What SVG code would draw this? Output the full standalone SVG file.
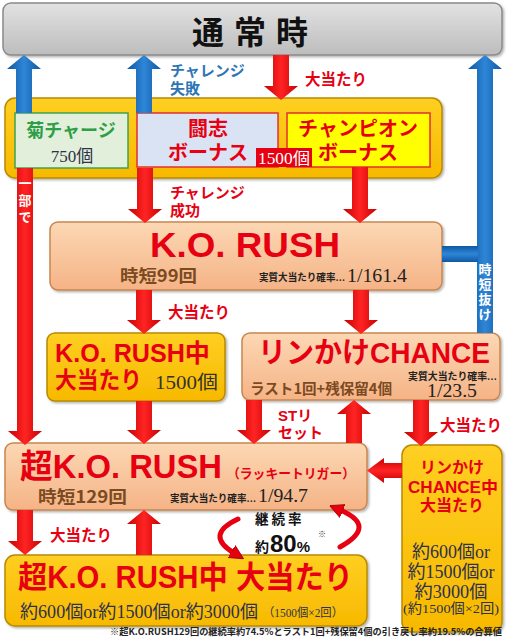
<svg xmlns="http://www.w3.org/2000/svg" width="507" height="640" viewBox="0 0 507 640">
<defs>
<linearGradient id="gGray" x1="0" y1="0" x2="0" y2="1"><stop offset="0" stop-color="#e2e2e2"/><stop offset="1" stop-color="#bdbdbd"/></linearGradient>
<linearGradient id="gPeach" x1="0" y1="0" x2="0" y2="1"><stop offset="0" stop-color="#fcd8b4"/><stop offset="1" stop-color="#f5b386"/></linearGradient>
<linearGradient id="gYel" x1="0" y1="0" x2="0" y2="1"><stop offset="0" stop-color="#ffcf22"/><stop offset="1" stop-color="#f7b900"/></linearGradient>
<linearGradient id="gRed" x1="0" y1="0" x2="1" y2="0"><stop offset="0" stop-color="#c80000"/><stop offset="0.5" stop-color="#ff2424"/><stop offset="1" stop-color="#c80000"/></linearGradient>
<linearGradient id="gRedH" x1="0" y1="0" x2="0" y2="1"><stop offset="0" stop-color="#c80000"/><stop offset="0.5" stop-color="#ff2424"/><stop offset="1" stop-color="#c80000"/></linearGradient>
<linearGradient id="gBlue" x1="0" y1="0" x2="1" y2="0"><stop offset="0" stop-color="#0d58a5"/><stop offset="0.5" stop-color="#2f86d6"/><stop offset="1" stop-color="#0d58a5"/></linearGradient>
<linearGradient id="gBlueH" x1="0" y1="0" x2="0" y2="1"><stop offset="0" stop-color="#0d58a5"/><stop offset="0.5" stop-color="#2f86d6"/><stop offset="1" stop-color="#0d58a5"/></linearGradient>
<filter id="sh" x="-5%" y="-5%" width="110%" height="115%"><feDropShadow dx="1.5" dy="1.5" stdDeviation="1" flood-color="#000" flood-opacity="0.3"/></filter>
<marker id="mRed" viewBox="0 0 10 10" refX="2" refY="5" markerWidth="14" markerHeight="16" markerUnits="userSpaceOnUse" orient="auto"><path d="M0,0 L10,5 L0,10 Z" fill="#e60012" stroke="#a00000" stroke-width="0.6"/></marker>
<style>
.jp{font-family:"Noto Sans CJK JP",sans-serif;font-weight:bold}
.lat{font-family:"Liberation Sans","Noto Sans CJK JP",sans-serif;font-weight:bold}
.ser{font-family:"Liberation Serif","Noto Sans CJK JP",serif}
.red{fill:#e60012}
.brown{fill:#7b4a21}
.dark{fill:#2e3148}
.peach{fill:url(#gPeach);stroke:#c7864f;stroke-width:1.5;filter:url(#sh)}
.yel{fill:url(#gYel);stroke:#b88a00;stroke-width:1.5;filter:url(#sh)}
.ra{fill:url(#gRed)}
.rah{fill:url(#gRedH)}
.ba{fill:url(#gBlue)}
.wt{fill:#fff;font-family:"Noto Sans CJK JP",sans-serif;font-weight:bold;writing-mode:vertical-rl}
.mid{text-anchor:middle}
.curve{fill:none;stroke:#e60012;stroke-width:5;stroke-linecap:round}
</style>
</defs>

<g id="nodes">
<g id="normal">
<rect x="3" y="3" width="499" height="52" rx="8" fill="url(#gGray)" stroke="#8a8a8a" stroke-width="1.5" filter="url(#sh)"/>
<text x="192" y="44" class="jp" font-size="32" letter-spacing="10" fill="#111">通常時</text>
</g>
<g id="bonus-group">
<rect x="5" y="98" width="437" height="80" rx="10" class="yel"/>
</g>
<g id="kiku">
<rect x="15" y="113" width="113" height="55" fill="#e2efda" stroke="#3fa34d" stroke-width="1.5"/>
<text x="71" y="137" class="jp mid" font-size="18" fill="#2e9e48">菊チャージ</text>
<text x="72" y="162" class="ser mid dark" font-size="17">750個</text>
</g>
<g id="toshi">
<rect x="137" y="113" width="141" height="54" fill="#dae3f3" stroke="#e03030" stroke-width="1.5"/>
<text class="jp mid red" font-size="20"><tspan x="208" y="136">闘志</tspan><tspan x="208" y="160">ボーナス</tspan></text>
</g>
<g id="champion">
<rect x="287" y="113" width="143" height="54" fill="#ffff00" stroke="#e03030" stroke-width="1.5"/>
<text class="jp mid red" font-size="20"><tspan x="358" y="136">チャンピオン</tspan><tspan x="358" y="160">ボーナス</tspan></text>
</g>
<g id="bonus-1500">
<rect x="256" y="148" width="56" height="19" fill="#e60012"/>
<text x="284" y="164" class="ser mid" font-size="16" fill="#fff" textLength="52" lengthAdjust="spacingAndGlyphs">1500個</text>
</g>
<g id="ko-rush">
<rect x="50" y="222" width="392" height="68" rx="8" class="peach"/>
<text x="245" y="257" class="lat mid red" font-size="35" textLength="190" lengthAdjust="spacingAndGlyphs">K.O. RUSH</text>
<text x="120" y="282" class="jp brown" font-size="17" textLength="77" lengthAdjust="spacingAndGlyphs">時短99回</text>
<text x="259" y="281" class="ser" font-weight="bold" font-size="10" fill="#222" textLength="86" lengthAdjust="spacingAndGlyphs">実質大当たり確率…</text>
<text x="347" y="282" class="ser" font-size="19" fill="#222" textLength="60" lengthAdjust="spacingAndGlyphs">1/161.4</text>
</g>
<g id="ko-rush-hit">
<rect x="47" y="333" width="178" height="68" rx="8" class="yel"/>
<text class="red" font-size="25"><tspan x="55" y="362" class="lat" textLength="155" lengthAdjust="spacingAndGlyphs">K.O. RUSH中</tspan><tspan x="55" y="388" class="jp" font-size="23" textLength="87" lengthAdjust="spacingAndGlyphs">大当たり</tspan></text>
<text x="155" y="389" class="ser" font-size="19" fill="#333328" textLength="63" lengthAdjust="spacingAndGlyphs">1500個</text>
</g>
<g id="rinkake-chance">
<rect x="242" y="333" width="258" height="67" rx="8" class="peach"/>
<text x="258" y="363" class="lat red" font-size="29" textLength="232" lengthAdjust="spacingAndGlyphs">リンかけCHANCE</text>
<text x="250" y="394" class="jp brown" font-size="14.5" font-weight="normal" textLength="142" lengthAdjust="spacingAndGlyphs">ラスト1回+残保留4個</text>
<text x="408" y="380" class="ser" font-weight="bold" font-size="10" fill="#222" textLength="89" lengthAdjust="spacingAndGlyphs">実質大当たり確率…</text>
<text x="427" y="397" class="ser" font-size="19" fill="#222" textLength="50" lengthAdjust="spacingAndGlyphs">1/23.5</text>
</g>
<g id="super-ko-rush">
<rect x="5" y="443" width="362" height="67" rx="8" class="peach"/>
<text x="20" y="478" class="lat red" font-size="33" textLength="202" lengthAdjust="spacingAndGlyphs">超K.O. RUSH</text>
<text x="227" y="478" class="jp red" font-size="13" textLength="128" lengthAdjust="spacingAndGlyphs">（ラッキートリガー）</text>
<text x="38" y="503" class="jp brown" font-size="17" textLength="89" lengthAdjust="spacingAndGlyphs">時短129回</text>
<text x="170" y="502" class="ser" font-weight="bold" font-size="10" fill="#222" textLength="86" lengthAdjust="spacingAndGlyphs">実質大当たり確率…</text>
<text x="258" y="502" class="ser" font-size="19" fill="#222" textLength="50" lengthAdjust="spacingAndGlyphs">1/94.7</text>
</g>
<g id="rinkake-hit">
<rect x="402" y="445" width="100" height="187" rx="10" class="yel"/>
<text class="mid red" font-size="16"><tspan x="452" y="473" class="jp">リンかけ</tspan><tspan x="453" y="493" class="lat" textLength="90" lengthAdjust="spacingAndGlyphs">CHANCE中</tspan><tspan x="452" y="511" class="jp">大当たり</tspan></text>
<text class="ser mid dark" font-size="18"><tspan x="451" y="558" textLength="78" lengthAdjust="spacingAndGlyphs">約600個or</tspan><tspan x="451" y="578" textLength="87" lengthAdjust="spacingAndGlyphs">約1500個or</tspan><tspan x="451" y="598" textLength="73" lengthAdjust="spacingAndGlyphs">約3000個</tspan><tspan x="451" y="613" font-size="13.5" textLength="96" lengthAdjust="spacingAndGlyphs">(約1500個×2回)</tspan></text>
</g>
<g id="super-ko-rush-hit">
<rect x="5" y="555" width="362" height="71" rx="10" class="yel"/>
<text x="18" y="588" class="lat red" font-size="31" textLength="335" lengthAdjust="spacingAndGlyphs">超K.O. RUSH中 大当たり</text>
<text x="20" y="618" class="ser dark" font-size="18" textLength="238" lengthAdjust="spacingAndGlyphs">約600個or約1500個or約3000個</text>
<text x="263" y="617" class="ser dark" font-size="12" textLength="80" lengthAdjust="spacingAndGlyphs">（1500個×2回）</text>
</g>
</g>

<g id="connectors">
<polygon class="ba" points="16,113 32,113 32,69 41,69 24,55 7,69 16,69"/>
<polygon class="ba" points="136,113 152,113 152,69 161,69 144,55 127,69 136,69"/>
<polygon class="ba" points="477,333 493,333 493,69 502,69 485,55 468,69 477,69"/>
<rect x="442" y="246" width="36" height="16" fill="url(#gBlueH)"/>
<polygon class="ra" points="273,55 289,55 289,86 298,86 281,100 264,86 273,86"/>
<polygon class="ra" points="17,168 33,168 33,431 42,431 25,445 8,431 17,431"/>
<polygon class="ra" points="137,168 153,168 153,209 162,209 145,223 128,209 137,209"/>
<polygon class="ra" points="352,167 368,167 368,209 377,209 360,223 343,209 352,209"/>
<polygon class="ra" points="136,290 152,290 152,320 161,320 144,334 127,320 136,320"/>
<polygon class="ra" points="353,290 369,290 369,320 378,320 361,334 344,320 353,320"/>
<polygon class="ra" points="136,401 152,401 152,430 161,430 144,444 127,430 136,430"/>
<polygon class="ra" points="246,400 262,400 262,430 271,430 254,444 237,430 246,430"/>
<polygon class="ra" points="346,443 362,443 362,414 371,414 354,400 337,414 346,414"/>
<polygon class="ra" points="413,400 429,400 429,432 438,432 421,446 404,432 413,432"/>
<polygon class="rah" points="402,463 384,463 384,458 367,470.5 384,483 384,478 402,478"/>
<polygon class="ra" points="17,510 33,510 33,541 42,541 25,555 8,541 17,541"/>
<polygon class="ra" points="136,555 152,555 152,524 161,524 144,510 127,524 136,524"/>
<path class="curve" d="M238,519 Q204,535 234,553" marker-end="url(#mRed)"/>
<path class="curve" d="M340,547 Q378,526 340,510" marker-end="url(#mRed)"/>
</g>

<g id="labels">
<text class="jp" font-size="15" fill="#2e75b6"><tspan x="170" y="76">チャレンジ</tspan><tspan x="170" y="94">失敗</tspan></text>
<text x="305" y="85" class="jp red" font-size="15.5">大当たり</text>
<text class="jp red" font-size="15"><tspan x="170" y="198">チャレンジ</tspan><tspan x="170" y="216">成功</tspan></text>
<text x="168" y="318" class="jp red" font-size="15.5">大当たり</text>
<text class="red" font-size="15"><tspan x="278" y="421" class="lat">STリ</tspan><tspan x="278" y="438" class="jp">セット</tspan></text>
<text x="440" y="431" class="jp red" font-size="15.5">大当たり</text>
<text x="50" y="541" class="jp red" font-size="15.5">大当たり</text>
<text x="25" y="177" class="wt" font-size="13" letter-spacing="4">一部で</text>
<text x="485" y="263" class="wt" font-size="13" letter-spacing="2">時短抜け</text>
<g id="rate">
<text x="255" y="524" class="jp" font-size="13.5" letter-spacing="3" fill="#111">継続率</text>
<text x="255" y="552" class="jp" font-size="14" fill="#111">約<tspan x="270" class="lat" font-size="24">80</tspan><tspan class="lat" font-size="15">%</tspan></text>
<text x="318" y="537" class="jp" font-size="8" fill="#333">※</text>
</g>
<text x="110" y="635" class="jp" font-size="9" fill="#222" textLength="392" lengthAdjust="spacingAndGlyphs">※超K.O.RUSH129回の継続率約74.5%とラスト1回+残保留4個の引き戻し率約19.5%の合算値</text>
</g>
</svg>
